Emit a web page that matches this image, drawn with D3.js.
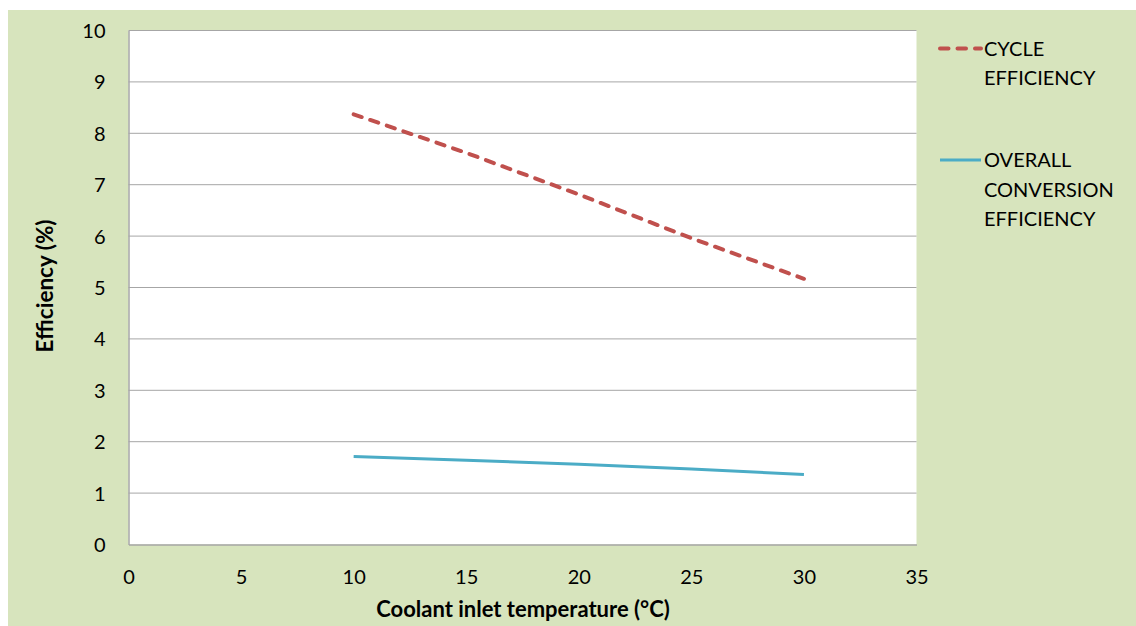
<!DOCTYPE html>
<html>
<head>
<meta charset="utf-8">
<script src="https://cdn.jsdelivr.net/npm/d3@7"></script>
<style>
  body { margin: 0; background: #fff; }
  text { font-family: Lato, "Open Sans", sans-serif; fill: #000; }
</style>
</head>
<body>
<script>
// values
var temps = [10, 15, 20, 25, 30];
var cycleEff = [8.37, 7.62, 6.81, 5.96, 5.17];
var overallEff = [1.71, 1.64, 1.56, 1.47, 1.36];
var xTicks = [0, 5, 10, 15, 20, 25, 30, 35];
var yTicks = [0, 1, 2, 3, 4, 5, 6, 7, 8, 9, 10];
var seriesNames = [["CYCLE", "EFFICIENCY"], ["OVERALL", "CONVERSION", "EFFICIENCY"]];

var svg = d3.select("body").append("svg")
    .attr("width", 1136)
    .attr("height", 626);

svg.append("rect")
    .attr("x", 8).attr("y", 10)
    .attr("width", 1128).attr("height", 616)
    .attr("fill", "#d7e4bd");

var margin = {top: 30.5, left: 128.5},
    width = 788,
    height = 514;

var g = svg.append("g").attr("transform", "translate(" + margin.left + "," + margin.top + ")");

var x = d3.scaleLinear().domain([0, 35]).range([0, width]);
var y = d3.scaleLinear().domain([0, 10]).range([height, 0]);

g.append("rect")
    .attr("width", width).attr("height", height)
    .attr("fill", "#fff");

// gridlines
g.selectAll(".grid")
    .data(yTicks.slice(1))
    .enter().append("line")
      .attr("class", "grid")
      .attr("x1", 0).attr("x2", width)
      .attr("y1", function(d) { return y(d); })
      .attr("y2", function(d) { return y(d); })
      .attr("stroke", "#a6a6a6")
      .attr("stroke-width", 1);

var xAxis = g.append("g")
    .attr("transform", "translate(0," + height + ")")
    .call(d3.axisBottom(x).tickValues(xTicks).tickSize(0));
var yAxis = g.append("g")
    .call(d3.axisLeft(y).tickValues(yTicks).tickSize(0).tickPadding(23));

[xAxis, yAxis].forEach(function(a) {
  a.select(".domain").attr("stroke", "#a6a6a6").attr("stroke-width", 1.5);
  a.selectAll("text").style("font-size", "20px").attr("fill", "#000");
});
xAxis.selectAll("text").attr("dy", "0.35em").attr("y", 32);
yAxis.selectAll("text").attr("dy", "0.35em");

var line = d3.line()
    .x(function(d, i) { return x(temps[i]); })
    .y(function(d) { return y(d); });

g.append("path")
    .datum(cycleEff)
    .attr("d", line)
    .attr("fill", "none")
    .attr("stroke", "#c0504d")
    .attr("stroke-width", 4)
    .attr("stroke-linecap", "round")
    .attr("stroke-dasharray", "8.5,9");

g.append("path")
    .datum(overallEff)
    .attr("d", line)
    .attr("fill", "none")
    .attr("stroke", "#4bacc6")
    .attr("stroke-width", 3);

// axis titles
svg.append("text")
    .attr("x", 523)
    .attr("y", 609)
    .attr("dy", "0.35em")
    .attr("text-anchor", "middle")
    .style("font", "bold 22px Lato, 'Open Sans', sans-serif")
    .text("Coolant inlet temperature (°C)");

svg.append("text")
    .attr("transform", "translate(45,286) rotate(-90)")
    .attr("dy", "0.35em")
    .attr("text-anchor", "middle")
    .style("font", "bold 22.5px Lato, 'Open Sans', sans-serif")
    .text("Efficiency (%)");

// legend
var legend = svg.selectAll(".legend")
    .data(seriesNames)
    .enter().append("g")
      .attr("class", "legend")
      .attr("transform", function(d, i) { return "translate(938," + [48.5, 160][i] + ")"; });

legend.append("line")
    .attr("x1", 2).attr("x2", 43)
    .attr("stroke", function(d, i) { return i === 0 ? "#c0504d" : "#4bacc6"; })
    .attr("stroke-width", function(d, i) { return i === 0 ? 4 : 3; })
    .attr("stroke-linecap", function(d, i) { return i === 0 ? "round" : "butt"; })
    .attr("stroke-dasharray", function(d, i) { return i === 0 ? "8.5,9" : null; });

legend.selectAll("text")
    .data(function(d) { return d; })
    .enter().append("text")
      .attr("x", 46)
      .attr("y", function(d, i) { return i * 29.5; })
      .attr("dy", "0.35em")
      .style("font-size", "20px")
      .text(function(d) { return d; });
</script>
</body>
</html>
